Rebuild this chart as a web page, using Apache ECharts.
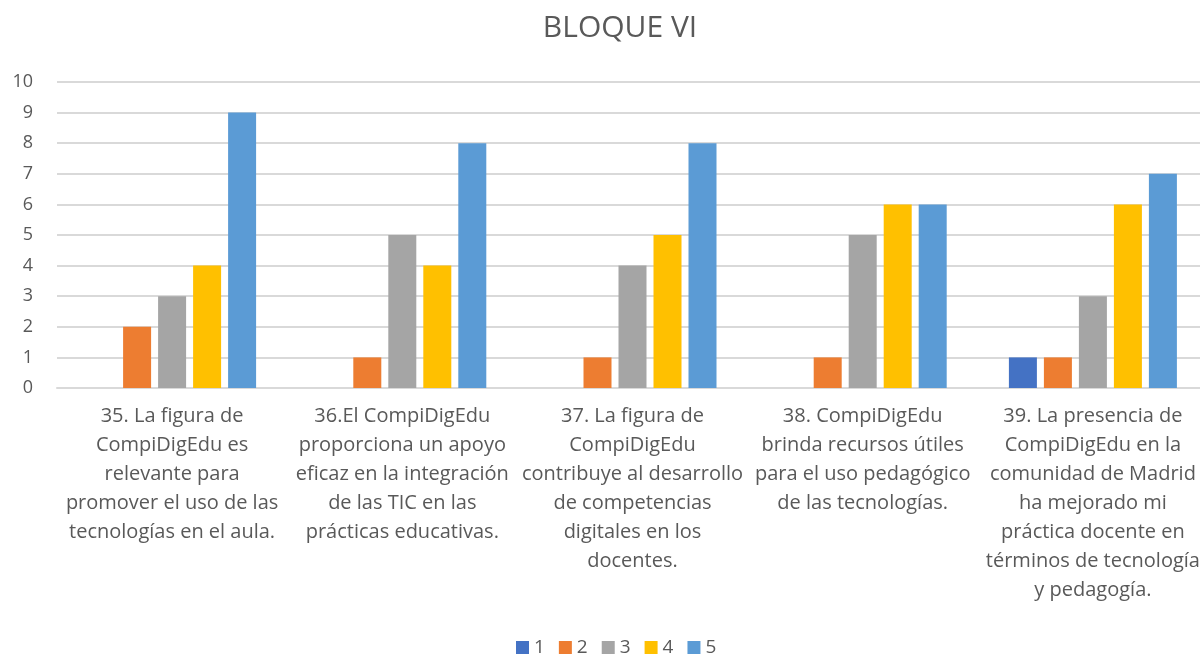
<!DOCTYPE html>
<html lang="es">
<head>
    <meta charset="UTF-8">
    <title>BLOQUE VI</title>
    <script src="https://cdn.jsdelivr.net/npm/echarts@6/dist/echarts.min.js"></script>
    <style>
        html, body { margin: 0; padding: 0; background: #fff; }
    </style>
</head>
<body>
    <div id="main" style="width: 1200px;height:654px;"></div>
    <script type="text/javascript">
    // preguntas del bloque (con los saltos de línea del original)
    var categorias = [
        '35. La figura de\nCompiDigEdu es\nrelevante para\npromover el uso de las\ntecnologías en el aula.',
        '36.El CompiDigEdu\nproporciona un apoyo\neficaz en la integración\nde las TIC en las\nprácticas educativas.',
        '37. La figura de\nCompiDigEdu\ncontribuye al desarrollo\nde competencias\ndigitales en los\ndocentes.',
        '38. CompiDigEdu\nbrinda recursos útiles\npara el uso pedagógico\nde las tecnologías.',
        '39. La presencia de\nCompiDigEdu en la\ncomunidad de Madrid\nha mejorado mi\npráctica docente en\ntérminos de tecnología\ny pedagogía.'
    ];
    var nombres = ['1', '2', '3', '4', '5'];
    var valores1 = [0, 0, 0, 0, 1];
    var valores2 = [2, 1, 1, 1, 1];
    var valores3 = [3, 5, 4, 5, 3];
    var valores4 = [4, 4, 5, 6, 6];
    var valores5 = [9, 8, 8, 6, 7];
    var colores = ['#4472C4', '#ED7D31', '#A5A5A5', '#FFC000', '#5B9BD5'];

    var datos = [valores1, valores2, valores3, valores4, valores5];
    var fuente = '"Open Sans", sans-serif';

    var series = [];
    for (var i = 0; i < nombres.length; i++) {
        series.push({
            name: nombres[i],
            type: 'bar',
            data: datos[i],
            barWidth: 28,
            barGap: '25%',
            itemStyle: { color: colores[i] }
        });
    }

    var myChart = echarts.init(document.getElementById('main'));
    var option = {
        color: colores,
        textStyle: { fontFamily: fuente },
        title: {
            text: 'BLOQUE VI',
            left: 615,
            textAlign: 'center',
            top: 8,
            textStyle: { fontSize: 30, fontWeight: 'normal', color: '#595959', fontFamily: fuente }
        },
        legend: {
            data: nombres,
            bottom: -8,
            left: 511,
            icon: 'rect',
            itemWidth: 13,
            itemHeight: 13,
            itemGap: 14,
            textStyle: { fontSize: 19, color: '#595959', fontFamily: fuente }
        },
        grid: {
            left: 57,
            width: 1151,
            top: 82,
            bottom: 266,
            containLabel: false,
            outerBoundsMode: 'none'
        },
        xAxis: {
            type: 'category',
            data: categorias,
            axisLine: { lineStyle: { color: '#d9d9d9', width: 2 } },
            axisTick: { show: false },
            axisLabel: {
                interval: 0,
                margin: 14,
                fontSize: 20,
                lineHeight: 29,
                color: '#595959',
                align: 'center',
                fontFamily: fuente
            }
        },
        yAxis: {
            type: 'value',
            min: 0,
            max: 10,
            interval: 1,
            axisLine: { show: false },
            axisTick: { show: false },
            splitLine: { lineStyle: { color: '#d9d9d9', width: 2 } },
            axisLabel: { fontSize: 18, color: '#595959', margin: 24, fontFamily: fuente }
        },
        series: series
    };
    myChart.setOption(option);
    </script>
</body>
</html>
